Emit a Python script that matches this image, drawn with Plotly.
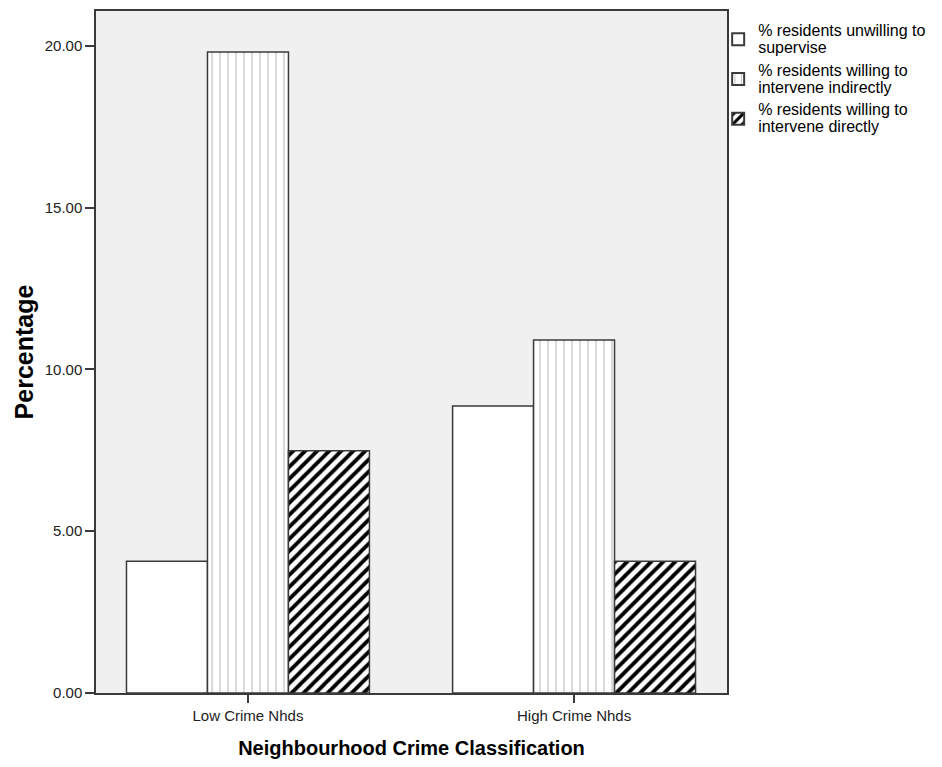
import plotly.graph_objects as go

categories = ["Low Crime Nhds", "High Crime Nhds"]
series_names = [
    "% residents unwilling to<br>supervise",
    "% residents willing to<br>intervene indirectly",
    "% residents willing to<br>intervene directly",
]
unwilling = [4.07, 8.87]
indirect = [19.81, 10.91]
direct = [7.49, 4.07]
y_ticks = [0, 5, 10, 15, 20]
y_tick_labels = ["0.00", "5.00", "10.00", "15.00", "20.00"]

FONT = "Liberation Sans, Arial, sans-serif"
outline = dict(color="#3a3a3a", width=1.5)


def big(label):
    return "<br>".join('<span style="font-size:16px">%s</span>' % p for p in label.split("<br>"))


fig = go.Figure()
fig.add_trace(go.Bar(
    x=categories, y=unwilling, name=big(series_names[0]), legendgroup="a",
    marker=dict(color="white", line=outline),
))
fig.add_trace(go.Bar(
    x=categories, y=indirect, name=big(series_names[1]), legendgroup="b",
    marker=dict(color="white", line=outline,
                pattern=dict(shape="|", fgcolor="#7a7a7a", bgcolor="white",
                             size=8, solidity=0.14)),
))
fig.add_trace(go.Bar(
    x=categories, y=direct, name=big(series_names[2]), legendgroup="c",
    marker=dict(color="white", line=outline,
                pattern=dict(shape="/", fgcolor="black", bgcolor="white",
                             size=8.5, solidity=0.45, fgopacity=1)),
))

fig.update_layout(
    width=934, height=759,
    margin=dict(l=88, r=215, t=1, b=74),
    paper_bgcolor="white",
    plot_bgcolor="#f0f0f0",
    barmode="group",
    bargap=0.255,
    bargroupgap=0,
    font=dict(family=FONT, size=12, color="#222"),
    legend=dict(
        x=0.986, y=0.993, xanchor="left", yanchor="top",
        font=dict(family=FONT, size=13, color="black"),
        tracegroupgap=3, itemsizing="constant",
        bgcolor="rgba(0,0,0,0)",
    ),
    xaxis=dict(
        type="category",
        range=[-0.466, 1.469],
        showline=True, linecolor="#3a3a3a", linewidth=1.5, mirror=True,
        ticks="outside", ticklen=8, tickcolor="#3a3a3a", tickwidth=1.5,
        tickfont=dict(family=FONT, size=15, color="#222"),
        title=dict(text="<b>Neighbourhood Crime Classification</b>",
                   font=dict(family=FONT, size=20, color="black"), standoff=18),
        showgrid=False,
    ),
    yaxis=dict(
        range=[0, 21.08],
        tickvals=y_ticks, ticktext=y_tick_labels,
        showline=True, linecolor="#3a3a3a", linewidth=1.5, mirror=True,
        ticks="outside", ticklen=9, tickcolor="#3a3a3a", tickwidth=1.5,
        tickfont=dict(family=FONT, size=15, color="#222"),
        title=dict(text="<b>Percentage</b>",
                   font=dict(family=FONT, size=25, color="black"), standoff=4),
        showgrid=False, zeroline=False,
    ),
)

fig.write_html("out.html")
